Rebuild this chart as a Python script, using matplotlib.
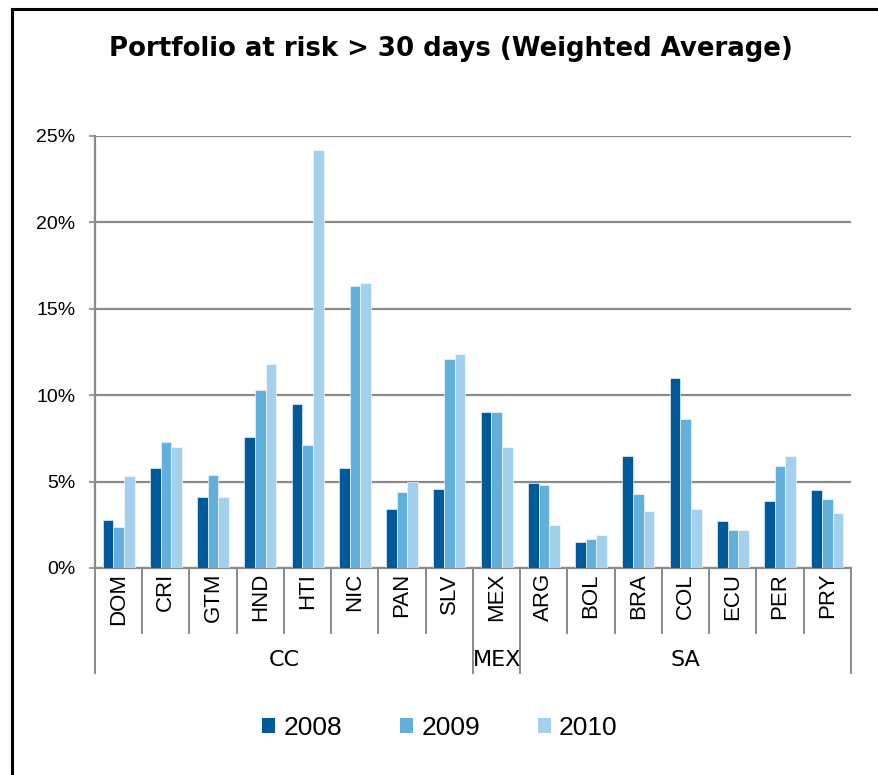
import matplotlib.pyplot as plt
from matplotlib.patches import Patch
from matplotlib.lines import Line2D
import numpy as np

countries = ['DOM', 'CRI', 'GTM', 'HND', 'HTI', 'NIC', 'PAN', 'SLV',
             'MEX', 'ARG', 'BOL', 'BRA', 'COL', 'ECU', 'PER', 'PRY']
regions = ['CC', 'MEX', 'SA']
region_sizes = [8, 1, 7]
years = ['2008', '2009', '2010']

par_2008 = [2.8, 5.8, 4.1, 7.6, 9.5, 5.8, 3.4, 4.6, 9.0, 4.9, 1.5, 6.5, 11.0, 2.7, 3.9, 4.5]
par_2009 = [2.4, 7.3, 5.4, 10.3, 7.1, 16.3, 4.4, 12.1, 9.0, 4.8, 1.7, 4.3, 8.6, 2.2, 5.9, 4.0]
par_2010 = [5.3, 7.0, 4.1, 11.8, 24.2, 16.5, 5.0, 12.4, 7.0, 2.5, 1.9, 3.3, 3.4, 2.2, 6.5, 3.2]

colors = ['#005A9A', '#63AFDC', '#A3D0EC']
grid_color = '#8a8a8a'

fig = plt.figure(figsize=(8.79, 7.75), dpi=100)
ax = fig.add_axes([95 / 879, (775 - 568) / 775, (851 - 95) / 879, (568 - 136) / 775])

x = np.arange(len(countries))
w = 0.225
for k, (vals, c) in enumerate(zip([par_2008, par_2009, par_2010], colors)):
    ax.bar(x + (k - 1) * w, vals, w, color=c, edgecolor='white', linewidth=0.4, zorder=3)

ax.set_xlim(-0.5, len(countries) - 0.5)
ax.set_ylim(0, 25)
ax.set_yticks(range(0, 26, 5))
ax.set_yticklabels([f'{v}%' for v in range(0, 26, 5)],
                   fontfamily='Liberation Sans', fontsize=14)
ax.yaxis.grid(True, color=grid_color, linewidth=1.6, zorder=0)
ax.set_xticks([])
ax.tick_params(axis='y', length=4, width=1.2, color=grid_color, pad=10)
for s in ['top', 'right']:
    ax.spines[s].set_visible(False)
for s in ['left', 'bottom']:
    ax.spines[s].set_color(grid_color)
    ax.spines[s].set_linewidth(1.6)

trans = ax.get_xaxis_transform()
ax_h = 568 - 136
y_cat = -(633 - 568) / ax_h
y_grp = -(673 - 568) / ax_h

# category labels and separators
for i, name in enumerate(countries):
    ax.text(i, -5 / ax_h, name, transform=trans, rotation=90, ha='center', va='top',
            fontfamily='Liberation Sans', fontsize=16)
bounds = np.cumsum([0] + region_sizes) - 0.5
for b in np.arange(-0.5, len(countries)):
    yb = y_grp if b in bounds else y_cat
    ax.add_line(Line2D([b, b], [0, yb], transform=trans, color=grid_color,
                       linewidth=1.4, clip_on=False))

# region labels
for j, name in enumerate(regions):
    cx = (bounds[j] + bounds[j + 1]) / 2
    ax.text(cx, -(660 - 568) / ax_h, name, transform=trans, ha='center', va='center',
            fontfamily='Liberation Sans Narrow', fontsize=16)

fig.suptitle('Portfolio at risk > 30 days (Weighted Average)', x=451 / 879, y=1 - 49 / 775,
             va='center', fontsize=18.7, fontweight='bold')

handles = [Patch(facecolor=c, edgecolor='none') for c in colors]
fig.legend(handles, years, loc='center', bbox_to_anchor=(440 / 879, 1 - 728 / 775), ncol=3,
           frameon=False, prop={'family': 'Liberation Sans', 'size': 19},
           handlelength=0.5, handleheight=0.5, handletextpad=0.3, columnspacing=2.2)

# chart border (left and top)
fig.add_artist(Line2D([12 / 879, 12 / 879], [0, 1 - 9 / 775], transform=fig.transFigure,
                      color='black', linewidth=2.2))
fig.add_artist(Line2D([12 / 879, 1], [1 - 9 / 775, 1 - 9 / 775], transform=fig.transFigure,
                      color='black', linewidth=2.2))

fig.savefig('out.png', dpi=100)
